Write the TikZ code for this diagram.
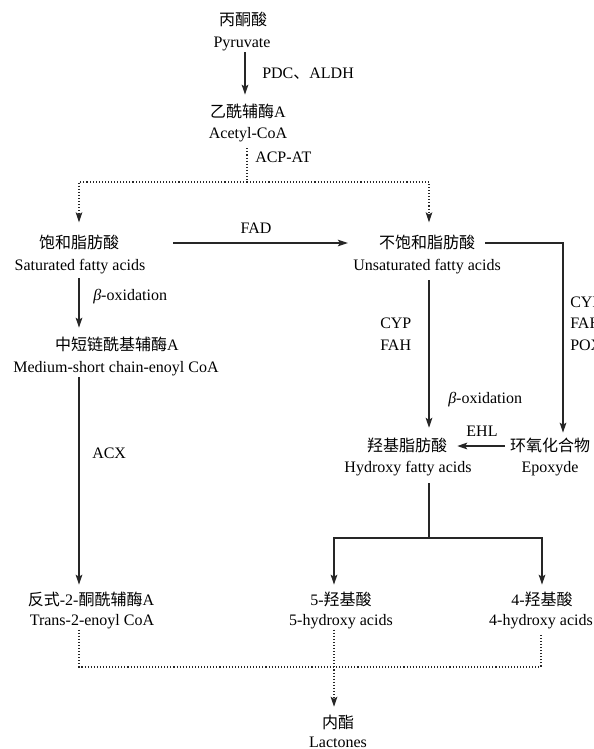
\documentclass[tikz,border=0pt]{standalone}
\usepackage{fontspec}
\setmainfont{Liberation Serif}
\newfontfamily\cjk{Noto Sans CJK SC}
\usetikzlibrary{arrows.meta}
\begin{document}
\begin{tikzpicture}[x=0.75pt,y=-0.75pt,
  every node/.style={font=\fontsize{12pt}{16.2pt}\selectfont, inner sep=0pt},
  ln/.style={text height=11pt, text depth=3pt},
  con/.style={line width=0.9pt, draw=black!85},
  tip/.style={-{Stealth[length=7.5pt,width=5pt,inset=1.6pt]}},
  arr/.style={con, tip, shorten <=1.5pt, shorten >=5pt},
  dot/.style={line width=0.8pt, draw=black!85, dash pattern=on 0.8pt off 1.5pt},
  dotarr/.style={dot, tip, shorten >=5pt},
]
\useasboundingbox (0,0) rectangle (593,749);
\clip (0,0) rectangle (593,749);

% x positions of connectors
\coordinate (xP) at (245,0);
\coordinate (xA) at (247,0);
\coordinate (xL) at (79,0);
\coordinate (xU) at (429,0);
\coordinate (xR) at (563,0);
\coordinate (xM) at (334,0);
\coordinate (j1) at (247,182);
\coordinate (split) at (429,538);
\coordinate (j2) at (334,667);

% nodes
\node[ln] (pyr)    at (243,20)  {\cjk 丙酮酸};
\node[ln] (pyrE)   at (242,42)  {Pyruvate};
\node[ln] (acet)   at (248,112) {{\cjk 乙酰辅酶}A};
\node[ln] (acetE)  at (248,133) {Acetyl-CoA};
\node[ln] (sat)    at (79,243)  {\cjk 饱和脂肪酸};
\node[ln] (satE)   at (80,265)  {Saturated fatty acids};
\node[ln] (unsat)  at (427,243) {\cjk 不饱和脂肪酸};
\node[ln] (unsatE) at (427,265) {Unsaturated fatty acids};
\node[ln] (med)    at (117,345) {{\cjk 中短链酰基辅酶}A};
\node[ln] (medE)   at (116,367) {Medium-short chain-enoyl CoA};
\node[ln] (hyd)    at (407,446) {\cjk 羟基脂肪酸};
\node[ln] (hydE)   at (408,467) {Hydroxy fatty acids};
\node[ln] (epox)   at (550,446) {\cjk 环氧化合物};
\node[ln] (epoxE)  at (550,467) {Epoxyde};
\node[ln] (trans)  at (91,600)  {{\cjk 反式}-2-{\cjk 酮酰辅酶}A};
\node[ln] (transE) at (92,620)  {Trans-2-enoyl CoA};
\node[ln] (h5)     at (341,600) {5-{\cjk 羟基酸}};
\node[ln] (h5E)    at (341,620) {5-hydroxy acids};
\node[ln] (h4)     at (542,600) {4-{\cjk 羟基酸}};
\node[ln] (h4E)    at (541,620) {4-hydroxy acids};
\node[ln] (lac)    at (338,723) {\cjk 内酯};
\node     (lacE)   at (338,742.5) {Lactones};

% labels
\node[ln, anchor=west] (lpdc) at (262,73)  {PDC{\cjk 、}ALDH};
\node[ln, anchor=west] (lacp) at (255,157) {ACP-AT};
\node[ln]              (lfad) at (256,228) {FAD};
\node[ln, anchor=west] (lbo1) at (93,295)  {\textit{β}-oxidation};
\node[ln, anchor=west] (lacx) at (92,453)  {ACX};
\node[anchor=west, align=left] (lcyp1) at (380,334) {CYP\\FAH};
\node[anchor=west, align=left] (lcyp2) at (570,323.5) {CYP\\FAH\\POX};
\node[ln, anchor=west] (lbo2) at (448,398) {\textit{β}-oxidation};
\node[ln]              (lehl) at (482,431) {EHL};

% connectors
\draw[arr, shorten <=0.5pt, shorten >=5.8pt] (pyrE.south -| xP) -- (acet.north -| xP);
\draw[dot, shorten <=4.3pt] (acetE.south -| xA) -- (j1);
\draw[dotarr, shorten >=8.3pt] (j1) -| (sat.north -| xL);
\draw[dotarr, shorten >=8.3pt] (j1) -| (unsat.north -| xU);
\draw[arr, shorten <=20.8pt, shorten >=3.9pt] (satE.east |- sat.east) -- (unsatE.west |- unsat.west);
\draw[arr, shorten <=2.8pt, shorten >=5.8pt] (satE.south -| xL) -- (med.north -| xL);
\draw[arr, shorten <=0.5pt, shorten >=4.3pt] (medE.south -| xL) -- (trans.north -| xL);
\draw[arr, shorten <=4.3pt, shorten >=6.5pt] (unsatE.south -| xU) -- (hyd.north -| xU);
\draw[arr, shorten <=7.5pt, shorten >=2.8pt] (unsat.east) -| (epox.north -| xR);
\draw[arr, shorten <=3.8pt, shorten >=7.5pt] (epox.west) -- (hyd.east);
\draw[con, shorten <=5pt] (hydE.south -| xU) -- (split);
\draw[arr, shorten <=0pt, shorten >=4.3pt] (split) -| (h5.north -| xM);
\draw[arr, shorten <=0pt, shorten >=4.3pt] (split) -| (h4.north);
\draw[dot] (transE.south -| xL) |- (h4E.south |- j2) -- ([yshift=-2.5pt]h4E.south);
\draw[dotarr] (h5E.south -| xM) -- (lac.north -| xM);
\end{tikzpicture}
\end{document}
